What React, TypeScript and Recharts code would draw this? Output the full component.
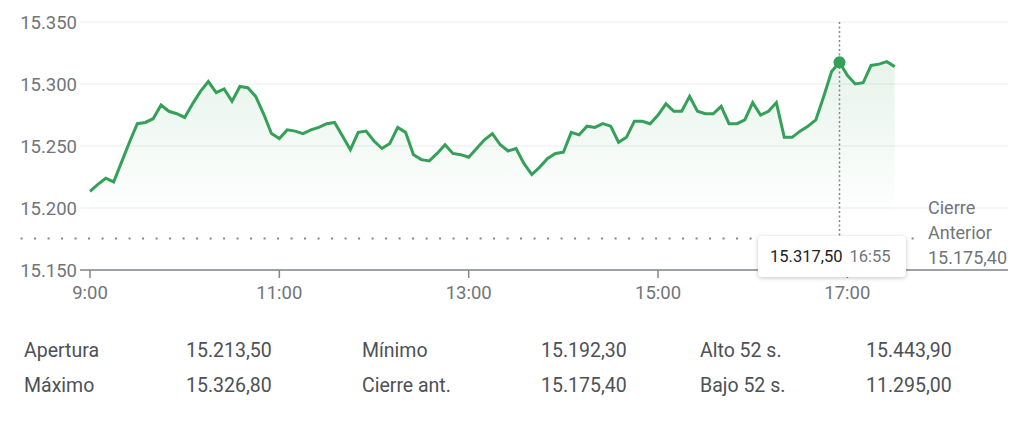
import {
  Area,
  CartesianGrid,
  ComposedChart,
  ReferenceLine,
  Tooltip,
  XAxis,
  YAxis,
} from "recharts";

// precios cada 5 min desde las 9:00
const START_HOUR = 9;
const STEP_MIN = 5;
const prices = [
  15213.5, 15219, 15224, 15221, 15237, 15253, 15268, 15269, 15272, 15283,
  15278, 15276, 15273, 15284, 15294, 15302, 15293, 15296, 15286, 15298,
  15297, 15290, 15276, 15260, 15256, 15263, 15262, 15260, 15263, 15265,
  15268, 15269, 15258, 15247, 15261, 15262, 15254, 15248, 15252, 15265,
  15261, 15243, 15239, 15238, 15244, 15251, 15244, 15243, 15241, 15248,
  15255, 15260, 15251, 15246, 15248, 15236, 15227, 15233, 15240, 15244,
  15245, 15261, 15259, 15266, 15265, 15268, 15266, 15253, 15257, 15270,
  15270, 15268, 15275, 15284, 15278, 15278, 15290, 15278, 15276, 15276,
  15282, 15268, 15268, 15271, 15285, 15275, 15278, 15285, 15257, 15257,
  15262, 15266, 15271, 15290, 15310, 15317.5, 15307, 15300, 15301, 15315,
  15316, 15318, 15314,
];
const HIGHLIGHT = 95;

const yTicks = [15150, 15200, 15250, 15300, 15350];
const xTicks = [0, 120, 240, 360, 480];
const PREV_CLOSE = 15175.4;

const statLabels1 = ["Apertura", "Mínimo", "Alto 52 s."];
const statValues1 = ["15.213,50", "15.192,30", "15.443,90"];
const statLabels2 = ["Máximo", "Cierre ant.", "Bajo 52 s."];
const statValues2 = ["15.326,80", "15.175,40", "11.295,00"];

const GREEN = "#34a058";
const GREY = "#70757a";
const FONT = "Roboto, Arial, sans-serif";

const data = prices.map((p, i) => ({ t: i * STEP_MIN, price: p }));

function fmtThousands(v: number, decimals: number) {
  const [int, dec] = v.toFixed(decimals).split(".");
  const grouped = int.replace(/\B(?=(\d{3})+(?!\d))/g, ".");
  return dec ? `${grouped},${dec}` : grouped;
}

function fmtTime(m: number) {
  const h = START_HOUR + Math.floor(m / 60);
  const mm = m % 60;
  return `${h}:${mm < 10 ? "0" : ""}${mm}`;
}

function PriceTip({ active, payload }: any) {
  if (!active || !payload || !payload.length) return null;
  const row = payload[0].payload;
  return (
    <div
      style={{
        background: "#fff",
        borderRadius: 4,
        boxShadow: "0 1px 4px rgba(60,64,67,0.3)",
        padding: "0 12px",
        height: 41,
        width: 124,
        display: "flex",
        alignItems: "center",
        gap: 7,
        fontFamily: FONT,
        fontSize: 16.5,
        whiteSpace: "nowrap",
      }}
    >
      <span style={{ color: "#202124" }}>{fmtThousands(row.price, 2)}</span>
      <span style={{ color: GREY }}>{fmtTime(row.t)}</span>
    </div>
  );
}

export default function App() {
  return (
    <div
      style={{
        position: "absolute",
        left: 0,
        top: 0,
        width: 1024,
        height: 435,
        background: "#fff",
        fontFamily: FONT,
      }}
    >
      <ComposedChart
        width={1024}
        height={320}
        data={data}
        margin={{ top: 22, right: 16, bottom: 10, left: 0 }}
      >
        <defs>
          <linearGradient id="fillGreen" x1="0" y1="0" x2="0" y2="1">
            <stop offset="0%" stopColor={GREEN} stopOpacity={0.2} />
            <stop offset="75%" stopColor={GREEN} stopOpacity={0} />
          </linearGradient>
        </defs>
        <CartesianGrid vertical={false} stroke="#f1f3f4" strokeWidth={1.5} />
        <XAxis
          dataKey="t"
          type="number"
          domain={[-6.34, 581.8]}
          ticks={xTicks}
          tickFormatter={fmtTime}
          stroke="#80868b"
          strokeWidth={1.5}
          tickSize={8}
          tickMargin={8}
          height={40}
          tick={{ fill: GREY, fontSize: 18.5, fontFamily: FONT }}
        />
        <YAxis
          type="number"
          domain={[15150, 15350]}
          ticks={yTicks}
          tickFormatter={(v: number) => fmtThousands(v, 0)}
          axisLine={false}
          tickLine={false}
          tickSize={0}
          tickMargin={3}
          width={80}
          tick={{ fill: GREY, fontSize: 18.5, fontFamily: FONT }}
        />
        <ReferenceLine
          segment={[
            { x: -44, y: PREV_CLOSE },
            { x: 526, y: PREV_CLOSE },
          ]}
          ifOverflow="visible"
          stroke="#80868b"
          strokeWidth={2}
          strokeDasharray="2 11.5"
        />
        <Area
          type="linear"
          dataKey="price"
          stroke={GREEN}
          strokeWidth={3}
          fill="url(#fillGreen)"
          dot={false}
          activeDot={{ r: 6, fill: GREEN, stroke: "none" }}
          isAnimationActive={false}
        />
        <Tooltip
          defaultIndex={HIGHLIGHT}
          active
          position={{ x: 758, y: 236 }}
          cursor={{ stroke: "#80868b", strokeWidth: 1.5, strokeDasharray: "2 2.5" }}
          isAnimationActive={false}
          content={<PriceTip />}
          wrapperStyle={{ outline: "none" }}
        />
      </ComposedChart>

      <div
        style={{
          position: "absolute",
          left: 928,
          top: 195,
          fontSize: 18,
          lineHeight: "25px",
          color: GREY,
        }}
      >
        <div>Cierre</div>
        <div>Anterior</div>
        <div>{fmtThousands(PREV_CLOSE, 2)}</div>
      </div>

      <div
        style={{
          position: "absolute",
          left: 24,
          top: 333,
          display: "grid",
          gridTemplateColumns: "162px 176px 179px 159px 166px 130px",
          fontSize: 19.5,
          lineHeight: "35px",
          color: "#4d5156",
        }}
      >
        {[0, 1].map((r) => {
          const labels = r === 0 ? statLabels1 : statLabels2;
          const values = r === 0 ? statValues1 : statValues2;
          return labels.flatMap((l, i) => [
            <div key={`l${r}${i}`}>{l}</div>,
            <div key={`v${r}${i}`}>{values[i]}</div>,
          ]);
        })}
      </div>
    </div>
  );
}
